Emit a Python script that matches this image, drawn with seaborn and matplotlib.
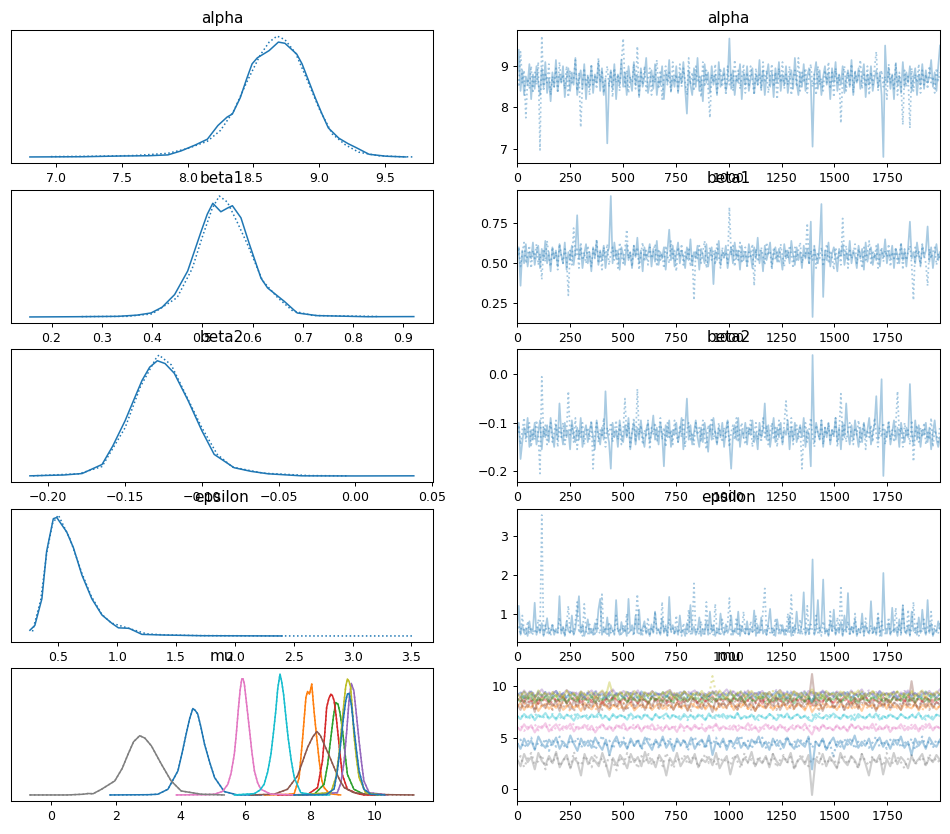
import numpy as np
import matplotlib
matplotlib.use("Agg")
import matplotlib.pyplot as plt
import seaborn as sns

# ---------------- data ----------------
var_names = ["alpha", "beta1", "beta2", "epsilon", "mu"]
trace_xticks = [0, 250, 500, 750, 1000, 1250, 1500, 1750]
beta1_trace_yticks = [0.25, 0.50, 0.75]
n_draws = 2000

# KDE curves (x, relative density): chain 0 (solid) and chain 1 (dotted)
alpha_kde0_x = [6.80, 7.2, 7.5, 7.7, 7.85, 7.95, 8.06, 8.15, 8.23, 8.30, 8.34, 8.40, 8.45, 8.49, 8.53, 8.56,
                8.62, 8.69, 8.74, 8.77, 8.83, 8.87, 8.92, 8.97, 9.02, 9.07, 9.15, 9.22, 9.28, 9.38, 9.51, 9.66]
alpha_kde0_y = [0.0, 0.002, 0.008, 0.01, 0.017, 0.05, 0.10, 0.147, 0.26, 0.33, 0.355, 0.49, 0.65, 0.77, 0.82, 0.84,
                0.88, 0.95, 0.94, 0.91, 0.85, 0.77, 0.63, 0.49, 0.36, 0.24, 0.155, 0.11, 0.078, 0.022, 0.006, 0.0]
alpha_kde1_x = [6.96, 7.3, 7.6, 7.85, 8.0, 8.15, 8.25, 8.35, 8.45, 8.55, 8.62, 8.68, 8.74, 8.82, 8.9, 9.0,
                9.1, 9.2, 9.3, 9.45, 9.6, 9.72]
alpha_kde1_y = [0.003, 0.006, 0.012, 0.03, 0.07, 0.13, 0.22, 0.38, 0.62, 0.84, 0.95, 1.0, 0.97, 0.86, 0.66, 0.40,
                0.19, 0.10, 0.04, 0.01, 0.003, 0.0]

beta1_kde0_x = [0.157, 0.25, 0.332, 0.37, 0.398, 0.42, 0.445, 0.471, 0.498, 0.51, 0.521, 0.537, 0.550, 0.560,
                0.577, 0.594, 0.617, 0.630, 0.663, 0.689, 0.729, 0.828, 0.921]
beta1_kde0_y = [0.0, 0.002, 0.005, 0.015, 0.033, 0.08, 0.185, 0.38, 0.71, 0.85, 0.94, 0.87, 0.9, 0.92,
                0.82, 0.60, 0.32, 0.24, 0.13, 0.033, 0.011, 0.002, 0.003]
beta1_kde1_x = [0.26, 0.35, 0.40, 0.45, 0.48, 0.50, 0.52, 0.534, 0.55, 0.57, 0.59, 0.62, 0.65, 0.68, 0.72, 0.85]
beta1_kde1_y = [0.003, 0.005, 0.025, 0.16, 0.40, 0.66, 0.90, 1.0, 0.95, 0.78, 0.60, 0.30, 0.16, 0.05, 0.012, 0.004]

beta2_kde0_x = [-0.212, -0.19, -0.178, -0.165, -0.158, -0.150, -0.144, -0.139, -0.134, -0.129, -0.124, -0.118,
                -0.109, -0.100, -0.092, -0.079, -0.068, -0.057, -0.035, 0.0, 0.038]
beta2_kde0_y = [0.003, 0.01, 0.022, 0.097, 0.25, 0.458, 0.64, 0.79, 0.9, 0.953, 0.93, 0.85,
                0.625, 0.375, 0.18, 0.07, 0.04, 0.02, 0.003, 0.002, 0.003]
beta2_kde1_x = [-0.21, -0.18, -0.165, -0.15, -0.14, -0.13, -0.128, -0.12, -0.11, -0.10, -0.09, -0.08, -0.06,
                -0.03, -0.005]
beta2_kde1_y = [0.003, 0.02, 0.08, 0.40, 0.74, 0.97, 1.0, 0.92, 0.66, 0.40, 0.18, 0.075, 0.025, 0.005, 0.003]

epsilon_kde0_x = [0.258, 0.30, 0.36, 0.40, 0.457, 0.486, 0.571, 0.628, 0.70, 0.784, 0.87, 0.955, 1.01, 1.10,
                  1.21, 1.38, 1.72, 2.40]
epsilon_kde0_y = [0.05, 0.09, 0.31, 0.70, 0.97, 0.98, 0.86, 0.73, 0.505, 0.31, 0.176, 0.107, 0.07, 0.066,
                  0.016, 0.011, 0.005, 0.003]
epsilon_kde1_x = [0.28, 0.35, 0.40, 0.45, 0.50, 0.55, 0.60, 0.65, 0.70, 0.78, 0.87, 0.95, 1.05, 1.15, 1.25,
                  1.4, 1.7, 2.5, 3.52]
epsilon_kde1_y = [0.04, 0.3, 0.68, 0.93, 1.0, 0.9, 0.80, 0.66, 0.52, 0.33, 0.18, 0.11, 0.08, 0.05, 0.02,
                  0.012, 0.006, 0.003, 0.003]

# mu components (colour C0..C9, then C0 again)
mu_kde_x = [
    [1.82, 3.0, 3.30, 3.61, 3.92, 4.05, 4.17, 4.28, 4.38, 4.45, 4.53, 4.63, 4.74, 4.9, 5.05, 5.35, 5.76, 6.5],
    [6.6, 7.3, 7.51, 7.66, 7.77, 7.87, 7.92, 7.98, 8.05, 8.12, 8.2, 8.28, 8.36, 8.43, 8.6, 8.94],
    [7.3, 8.12, 8.43, 8.54, 8.64, 8.72, 8.79, 8.86, 8.92, 8.99, 9.07, 9.15, 9.35, 9.66, 10.1],
    [7.0, 7.92, 8.23, 8.38, 8.45, 8.51, 8.58, 8.64, 8.69, 8.74, 8.8, 8.86, 8.99, 9.15, 9.46, 9.66, 10.0],
    [7.8, 8.84, 8.95, 9.05, 9.13, 9.20, 9.27, 9.35, 9.43, 9.51, 9.59, 9.66, 9.82, 10.38],
    [6.17, 6.89, 7.30, 7.61, 7.92, 8.08, 8.21, 8.32, 8.43, 8.58, 8.74, 8.9, 9.05, 9.35, 9.76, 10.5, 11.2],
    [3.87, 4.8, 5.05, 5.30, 5.46, 5.56, 5.66, 5.72, 5.78, 5.84, 5.89, 5.93, 5.97, 6.04, 6.12, 6.20, 6.28,
     6.38, 6.48, 6.79, 7.6],
    [-0.65, 0.5, 1.0, 1.15, 1.3, 1.56, 1.97, 2.2, 2.38, 2.55, 2.74, 2.9, 3.10, 3.41, 3.71, 4.02, 4.64, 5.35],
    [7.6, 8.64, 8.8, 8.89, 8.97, 9.05, 9.1, 9.15, 9.2, 9.25, 9.3, 9.35, 9.43, 9.51, 9.71, 10.17],
    [5.66, 6.28, 6.45, 6.58, 6.69, 6.79, 6.87, 6.94, 7.0, 7.07, 7.12, 7.18, 7.25, 7.32, 7.42, 7.51, 7.71,
     8.12, 8.6],
    [7.5, 8.5, 8.74, 8.84, 8.94, 9.02, 9.10, 9.15, 9.2, 9.27, 9.35, 9.43, 9.51, 9.66, 9.87, 10.3],
]
mu_kde_y = [
    [0, 0.002, 0.006, 0.047, 0.2, 0.35, 0.50, 0.63, 0.715, 0.70, 0.67, 0.56, 0.42, 0.27, 0.144, 0.028, 0.0, 0.0],
    [0, 0.004, 0.011, 0.144, 0.475, 0.807, 0.856, 0.834, 0.917, 0.696, 0.48, 0.282, 0.12, 0.061, 0.01, 0.0],
    [0, 0.003, 0.088, 0.25, 0.475, 0.65, 0.765, 0.751, 0.68, 0.558, 0.36, 0.171, 0.047, 0.006, 0],
    [0, 0.003, 0.061, 0.282, 0.5, 0.724, 0.8, 0.834, 0.82, 0.779, 0.66, 0.503, 0.171, 0.047, 0.011, 0.0, 0.0],
    [0, 0.019, 0.1, 0.282, 0.53, 0.779, 0.923, 0.862, 0.66, 0.448, 0.26, 0.116, 0.019, 0.0],
    [0, 0.006, 0.047, 0.157, 0.392, 0.48, 0.525, 0.49, 0.42, 0.33, 0.227, 0.13, 0.061, 0.019, 0.006, 0.002, 0.0],
    [0, 0.002, 0.006, 0.03, 0.088, 0.18, 0.337, 0.50, 0.696, 0.87, 0.959, 0.96, 0.917, 0.75, 0.558, 0.36,
     0.199, 0.10, 0.047, 0.006, 0],
    [0.0, 0.0, 0.006, 0.012, 0.01, 0.047, 0.116, 0.22, 0.337, 0.44, 0.49, 0.47, 0.406, 0.254, 0.116, 0.033,
     0.006, 0.0],
    [0, 0.019, 0.15, 0.337, 0.56, 0.779, 0.9, 0.959, 0.94, 0.89, 0.72, 0.503, 0.3, 0.144, 0.019, 0.0],
    [0, 0.011, 0.04, 0.088, 0.19, 0.337, 0.52, 0.696, 0.88, 1.0, 0.94, 0.834, 0.65, 0.475, 0.28, 0.144,
     0.019, 0.0, 0.0],
    [0, 0.004, 0.05, 0.2, 0.42, 0.62, 0.78, 0.834, 0.84, 0.75, 0.558, 0.37, 0.199, 0.047, 0.006, 0],
]
mu_colors = ["C0", "C1", "C2", "C3", "C4", "C5", "C6", "C7", "C8", "C9", "C0"]

# Trace values (thinned draws)
alpha_chain0 = [
    8.6, 9.4, 8.4, 8.9, 8.3, 8.75, 8.55, 9.05, 8.2, 8.8,
    8.45, 9.0, 8.6, 8.3, 8.95, 8.5, 9.1, 8.35, 8.7, 8.15,
    8.85, 8.5, 9.15, 8.4, 8.8, 8.6, 9.0, 8.25, 8.7, 8.95,
    8.4, 8.85, 8.55, 9.2, 8.3, 8.65, 8.9, 8.45, 9.05, 8.2,
    8.75, 8.5, 9.0, 8.35, 8.8, 8.6, 9.1, 8.4, 8.95, 8.3,
    8.7, 7.13, 8.6, 8.9, 8.45, 9.05, 8.2, 8.8, 8.55, 9.15,
    8.5, 8.85, 8.3, 9.0, 8.65, 8.4, 9.1, 8.55, 8.8, 8.25,
    8.95, 8.5, 8.75, 9.2, 8.35, 8.6, 8.9, 8.45, 9.05, 8.3,
    8.7, 8.55, 9.0, 8.2, 8.85, 8.6, 9.15, 8.4, 8.75, 8.5,
    9.0, 8.35, 8.8, 8.6, 9.1, 8.45, 7.85, 8.9, 8.55, 8.3,
    8.95, 8.5, 9.2, 8.4, 8.75, 8.15, 9.05, 8.6, 8.85, 8.35,
    9.0, 8.55, 8.8, 8.3, 9.1, 8.5, 8.7, 8.95, 8.4, 8.65,
    9.67, 8.45, 8.9, 8.3, 8.75, 8.6, 9.05, 8.2, 8.85, 8.55,
    9.0, 8.4, 8.7, 8.95, 8.35, 8.8, 8.55, 9.15, 8.45, 8.9,
    8.3, 8.75, 9.05, 8.5, 8.85, 8.25, 8.95, 8.6, 9.1, 8.4,
    8.8, 8.55, 9.0, 8.35, 8.7, 8.9, 8.45, 9.2, 8.6, 8.3,
    8.85, 8.5, 9.05, 8.4, 8.75, 8.95, 8.6, 7.05, 8.8, 9.1,
    8.45, 8.9, 8.3, 8.75, 9.0, 8.55, 8.85, 8.2, 8.95, 8.6,
    9.1, 8.4, 8.8, 8.55, 9.0, 8.35, 8.7, 8.9, 8.5, 9.15,
    8.3, 8.85, 8.6, 8.95, 8.45, 8.75, 9.05, 8.25, 8.8, 8.55,
    9.0, 8.4, 8.7, 8.9, 8.5, 8.85, 8.3, 6.8, 9.5, 8.6,
    8.95, 8.45, 8.8, 8.2, 9.05, 8.55, 8.75, 8.35, 9.1, 8.5,
    8.85, 8.6, 9.0, 8.4, 8.7, 8.95, 8.3, 8.8, 8.55, 9.05,
    8.45, 8.9, 8.6, 8.75, 9.15, 8.5, 8.85, 8.4, 9.0, 9.5]
alpha_chain1 = [
    8.8, 8.5, 9.35, 8.6, 8.9, 7.75, 8.7, 8.45, 9.0, 8.35,
    8.85, 8.55, 9.1, 6.97, 9.73, 8.4, 8.8, 8.6, 9.05, 8.3,
    8.75, 8.5, 8.95, 8.35, 9.1, 8.6, 8.8, 8.45, 9.0, 8.25,
    8.9, 8.55, 8.7, 9.15, 8.4, 8.85, 7.52, 8.6, 8.95, 8.5,
    8.8, 8.3, 9.05, 8.55, 8.75, 8.45, 9.2, 8.6, 8.9, 8.35,
    8.7, 9.0, 8.5, 8.85, 8.25, 8.95, 8.6, 8.8, 8.4, 9.1,
    9.67, 8.5, 8.9, 8.35, 8.75, 8.6, 9.05, 8.45, 9.48, 8.3,
    8.85, 8.55, 9.0, 8.4, 8.7, 8.95, 8.3, 8.8, 8.6, 9.15,
    8.45, 8.9, 8.2, 8.75, 9.0, 8.55, 8.85, 8.35, 9.1, 8.6,
    8.8, 8.4, 9.05, 8.5, 8.95, 8.65, 8.3, 9.2, 8.55, 8.85,
    8.4, 9.0, 8.6, 8.75, 8.25, 9.1, 8.5, 8.9, 8.45, 7.75,
    8.8, 8.6, 9.05, 8.35, 8.7, 8.95, 8.5, 8.85, 8.3, 9.0,
    8.55, 8.8, 8.4, 9.15, 8.6, 8.9, 8.45, 8.75, 9.05, 8.35,
    8.85, 8.5, 9.0, 8.65, 8.3, 8.95, 8.55, 8.8, 8.4, 9.1,
    8.6, 8.9, 8.35, 8.75, 9.05, 8.5, 8.85, 8.2, 8.95, 8.6,
    9.1, 8.45, 8.8, 8.55, 9.0, 8.3, 8.7, 8.9, 8.5, 9.2,
    8.4, 8.85, 8.6, 8.95, 8.35, 8.75, 9.05, 8.5, 8.8, 8.3,
    9.0, 8.55, 8.7, 8.4, 8.9, 8.6, 9.1, 8.45, 8.85, 8.25,
    8.95, 8.6, 8.8, 7.62, 8.7, 9.0, 8.4, 8.85, 8.55, 9.05,
    8.35, 8.9, 8.6, 8.75, 9.15, 8.45, 8.8, 8.5, 9.0, 8.3,
    8.85, 8.55, 8.95, 9.35, 8.4, 8.7, 8.9, 8.5, 8.75, 8.2,
    9.05, 8.6, 8.8, 8.45, 9.1, 8.3, 8.85, 8.55, 7.58, 8.9,
    8.5, 8.75, 7.5, 8.95, 8.4, 8.8, 8.6, 9.05, 8.35, 8.9,
    8.55, 8.8, 8.45, 9.0, 8.6, 8.75, 8.35, 8.95, 8.65, 8.85]

beta1_chain0 = [
    0.55, 0.6, 0.36, 0.58, 0.5, 0.62, 0.48, 0.57, 0.53, 0.63,
    0.49, 0.56, 0.61, 0.47, 0.59, 0.52, 0.64, 0.5, 0.57, 0.45,
    0.6, 0.53, 0.58, 0.48, 0.62, 0.55, 0.5, 0.63, 0.46, 0.57,
    0.52, 0.61, 0.49, 0.58, 0.8, 0.53, 0.6, 0.47, 0.56, 0.62,
    0.5, 0.57, 0.45, 0.6, 0.54, 0.64, 0.49, 0.58, 0.52, 0.61,
    0.47, 0.56, 0.6, 0.92, 0.5, 0.63, 0.53, 0.58, 0.46, 0.6,
    0.55, 0.49, 0.62, 0.52, 0.57, 0.47, 0.61, 0.54, 0.66, 0.5,
    0.58, 0.45, 0.6, 0.53, 0.56, 0.62, 0.48, 0.59, 0.51, 0.64,
    0.49, 0.57, 0.53, 0.6, 0.46, 0.58, 0.71, 0.52, 0.61, 0.48,
    0.56, 0.63, 0.5, 0.58, 0.54, 0.47, 0.6, 0.52, 0.65, 0.49,
    0.57, 0.53, 0.61, 0.46, 0.59, 0.55, 0.5, 0.62, 0.48, 0.56,
    0.6, 0.37, 0.58, 0.52, 0.64, 0.49, 0.57, 0.54, 0.61, 0.47,
    0.55, 0.6, 0.5, 0.63, 0.53, 0.58, 0.46, 0.61, 0.52, 0.57,
    0.49, 0.62, 0.55, 0.47, 0.6, 0.53, 0.66, 0.5, 0.58, 0.45,
    0.61, 0.52, 0.57, 0.63, 0.48, 0.56, 0.6, 0.51, 0.59, 0.54,
    0.46, 0.62, 0.53, 0.58, 0.5, 0.64, 0.55, 0.49, 0.6, 0.52,
    0.57, 0.47, 0.61, 0.53, 0.59, 0.5, 0.76, 0.165, 0.6, 0.54,
    0.5, 0.62, 0.87, 0.29, 0.58, 0.52, 0.63, 0.48, 0.56, 0.6,
    0.53, 0.45, 0.59, 0.55, 0.62, 0.49, 0.57, 0.52, 0.64, 0.5,
    0.58, 0.54, 0.47, 0.61, 0.53, 0.59, 0.46, 0.63, 0.51, 0.57,
    0.6, 0.49, 0.56, 0.52, 0.62, 0.48, 0.58, 0.54, 0.65, 0.5,
    0.57, 0.53, 0.61, 0.47, 0.59, 0.55, 0.5, 0.62, 0.52, 0.58,
    0.48, 0.6, 0.76, 0.53, 0.57, 0.5, 0.63, 0.55, 0.49, 0.61,
    0.54, 0.58, 0.73, 0.51, 0.6, 0.47, 0.56, 0.62, 0.52, 0.57]
beta1_chain1 = [
    0.52, 0.6, 0.48, 0.57, 0.63, 0.5, 0.55, 0.61, 0.47, 0.58,
    0.53, 0.62, 0.49, 0.56, 0.4, 0.59, 0.51, 0.64, 0.54, 0.48,
    0.6, 0.52, 0.57, 0.46, 0.62, 0.55, 0.5, 0.59, 0.53, 0.3,
    0.58, 0.49, 0.72, 0.54, 0.6, 0.47, 0.63, 0.52, 0.57, 0.5,
    0.61, 0.55, 0.48, 0.59, 0.53, 0.65, 0.5, 0.57, 0.46, 0.6,
    0.54, 0.62, 0.49, 0.56, 0.6, 0.52, 0.58, 0.47, 0.63, 0.55,
    0.5, 0.59, 0.71, 0.53, 0.57, 0.48, 0.61, 0.54, 0.6, 0.46,
    0.56, 0.63, 0.51, 0.58, 0.49, 0.6, 0.53, 0.57, 0.62, 0.48,
    0.59, 0.52, 0.56, 0.47, 0.61, 0.55, 0.5, 0.64, 0.53, 0.58,
    0.45, 0.6, 0.54, 0.62, 0.49, 0.57, 0.52, 0.6, 0.48, 0.56,
    0.27, 0.58, 0.53, 0.61, 0.5, 0.57, 0.64, 0.47, 0.55, 0.6,
    0.52, 0.58, 0.49, 0.62, 0.54, 0.47, 0.6, 0.53, 0.57, 0.5,
    0.85, 0.55, 0.61, 0.48, 0.58, 0.52, 0.63, 0.5, 0.56, 0.6,
    0.47, 0.57, 0.53, 0.62, 0.36, 0.59, 0.51, 0.56, 0.6, 0.54,
    0.49, 0.63, 0.55, 0.58, 0.46, 0.6, 0.52, 0.57, 0.5, 0.62,
    0.54, 0.48, 0.59, 0.53, 0.61, 0.56, 0.47, 0.6, 0.52, 0.58,
    0.63, 0.5, 0.56, 0.54, 0.75, 0.49, 0.58, 0.52, 0.61, 0.47,
    0.57, 0.53, 0.6, 0.48, 0.55, 0.62, 0.5, 0.58, 0.54, 0.46,
    0.6, 0.52, 0.57, 0.49, 0.78, 0.55, 0.61, 0.47, 0.58, 0.53,
    0.56, 0.62, 0.5, 0.59, 0.54, 0.47, 0.6, 0.52, 0.57, 0.64,
    0.49, 0.58, 0.53, 0.61, 0.47, 0.56, 0.6, 0.51, 0.58, 0.54,
    0.62, 0.48, 0.57, 0.53, 0.6, 0.5, 0.55, 0.63, 0.46, 0.59,
    0.52, 0.57, 0.61, 0.49, 0.27, 0.6, 0.54, 0.58, 0.48, 0.62,
    0.55, 0.5, 0.36, 0.59, 0.53, 0.57, 0.6, 0.49, 0.56, 0.52]

beta2_chain0 = [
    -0.12, -0.1, -0.175, -0.14, -0.11, -0.13, -0.09, -0.15, -0.115, -0.135,
    -0.1, -0.145, -0.12, -0.095, -0.155, -0.11, -0.13, -0.105, -0.14, -0.09,
    -0.125, -0.15, -0.105, -0.135, -0.06, -0.12, -0.145, -0.1, -0.13, -0.115,
    -0.155, -0.095, -0.125, -0.14, -0.11, -0.135, -0.09, -0.15, -0.12, -0.105,
    -0.14, -0.115, -0.1, -0.13, -0.155, -0.095, -0.125, -0.145, -0.11, -0.135,
    -0.035, -0.12, -0.14, -0.195, -0.1, -0.13, -0.115, -0.15, -0.095, -0.125,
    -0.14, -0.105, -0.13, -0.09, -0.155, -0.12, -0.1, -0.145, -0.11, -0.135,
    -0.095, -0.13, -0.15, -0.115, -0.1, -0.14, -0.12, -0.085, -0.135, -0.11,
    -0.145, -0.1, -0.125, -0.19, -0.105, -0.13, -0.095, -0.15, -0.115, -0.125,
    -0.1, -0.14, -0.12, -0.09, -0.155, -0.11, -0.05, -0.135, -0.105, -0.145,
    -0.12, -0.095, -0.13, -0.15, -0.11, -0.14, -0.1, -0.125, -0.16, -0.105,
    -0.135, -0.09, -0.12, -0.145, -0.11, -0.13, -0.1, -0.15, -0.115, -0.095,
    -0.14, -0.195, -0.125, -0.105, -0.135, -0.09, -0.15, -0.115, -0.13, -0.1,
    -0.145, -0.11, -0.125, -0.095, -0.14, -0.12, -0.155, -0.1, -0.13, -0.115,
    -0.06, -0.135, -0.105, -0.15, -0.12, -0.09, -0.14, -0.11, -0.13, -0.1,
    -0.145, -0.115, -0.125, -0.095, -0.155, -0.11, -0.135, -0.1, -0.14, -0.12,
    -0.105, -0.13, -0.09, -0.15, -0.115, -0.125, -0.19, 0.04, -0.14, -0.1,
    -0.12, -0.135, -0.095, -0.15, -0.11, -0.13, -0.1, -0.145, -0.115, -0.125,
    -0.09, -0.14, -0.11, -0.155, -0.1, -0.13, -0.06, -0.12, -0.145, -0.105,
    -0.135, -0.095, -0.125, -0.15, -0.11, -0.14, -0.1, -0.13, -0.115, -0.09,
    -0.145, -0.12, -0.105, -0.045, -0.135, -0.1, -0.01, -0.21, -0.115, -0.13,
    -0.1, -0.145, -0.12, -0.095, -0.135, -0.11, -0.15, -0.1, -0.125, -0.14,
    -0.11, -0.13, -0.02, -0.12, -0.145, -0.095, -0.135, -0.105, -0.15, -0.115,
    -0.125, -0.1, -0.14, -0.11, -0.155, -0.12, -0.095, -0.135, -0.15, -0.13]
beta2_chain1 = [
    -0.13, -0.105, -0.145, -0.115, -0.09, -0.14, -0.12, -0.1, -0.15, -0.11,
    -0.135, -0.095, -0.125, -0.205, -0.005, -0.13, -0.105, -0.145, -0.115, -0.1,
    -0.14, -0.12, -0.095, -0.15, -0.11, -0.13, -0.1, -0.145, -0.12, -0.035,
    -0.125, -0.105, -0.14, -0.09, -0.155, -0.115, -0.13, -0.1, -0.145, -0.12,
    -0.11, -0.135, -0.095, -0.195, -0.12, -0.1, -0.14, -0.115, -0.13, -0.09,
    -0.15, -0.11, -0.125, -0.1, -0.14, -0.12, -0.095, -0.135, -0.105, -0.145,
    -0.115, -0.05, -0.13, -0.1, -0.15, -0.12, -0.09, -0.14, -0.03, -0.125,
    -0.105, -0.145, -0.115, -0.13, -0.095, -0.155, -0.11, -0.125, -0.1, -0.14,
    -0.12, -0.09, -0.135, -0.11, -0.15, -0.1, -0.13, -0.115, -0.145, -0.095,
    -0.125, -0.14, -0.105, -0.13, -0.09, -0.15, -0.115, -0.1, -0.135, -0.12,
    -0.145, -0.1, -0.125, -0.11, -0.14, -0.095, -0.13, -0.155, -0.105, -0.12,
    -0.09, -0.135, -0.115, -0.145, -0.1, -0.125, -0.14, -0.11, -0.13, -0.095,
    -0.15, -0.12, -0.105, -0.135, -0.09, -0.14, -0.115, -0.1, -0.13, -0.145,
    -0.11, -0.125, -0.095, -0.15, -0.12, -0.1, -0.135, -0.115, -0.14, -0.09,
    -0.13, -0.105, -0.145, -0.12, -0.1, -0.135, -0.11, -0.15, -0.095, -0.125,
    -0.14, -0.1, -0.055, -0.115, -0.13, -0.09, -0.145, -0.12, -0.105, -0.135,
    -0.11, -0.195, -0.125, -0.1, -0.14, -0.115, -0.09, -0.13, -0.15, -0.105,
    -0.12, -0.135, -0.095, -0.145, -0.11, -0.125, -0.1, -0.14, -0.115, -0.13,
    -0.09, -0.15, -0.12, -0.04, -0.135, -0.105, -0.14, -0.115, -0.1, -0.13,
    -0.145, -0.11, -0.125, -0.095, -0.14, -0.12, -0.1, -0.155, -0.115, -0.13,
    -0.105, -0.14, -0.09, -0.125, -0.15, -0.11, -0.13, -0.1, -0.145, -0.12,
    -0.095, -0.135, -0.115, -0.14, -0.105, -0.035, -0.125, -0.11, -0.15, -0.1,
    -0.13, -0.115, -0.145, -0.095, -0.18, -0.12, -0.105, -0.14, -0.11, -0.13,
    -0.1, -0.145, -0.12, -0.135, -0.09, -0.15, -0.115, -0.125, -0.14, -0.105]

epsilon_chain0 = [
    0.55, 1.2, 0.45, 0.7, 0.5, 0.62, 0.42, 0.8, 0.5, 0.58,
    1.28, 0.45, 0.65, 0.5, 0.75, 0.42, 0.6, 0.88, 0.48, 0.55,
    0.7, 0.45, 0.6, 0.52, 1.45, 0.48, 0.66, 0.42, 0.8, 0.55,
    0.5, 0.95, 0.45, 0.6, 1.0, 1.45, 0.5, 0.72, 0.42, 0.58,
    0.85, 0.48, 0.6, 0.45, 0.75, 0.52, 1.1, 1.38, 0.45, 0.62,
    0.5, 0.9, 0.42, 0.7, 0.55, 0.48, 1.35, 0.6, 0.45, 0.78,
    0.52, 0.65, 0.42, 1.38, 0.55, 0.7, 0.48, 0.95, 0.5, 1.1,
    0.45, 0.62, 0.8, 0.48, 0.58, 0.42, 0.72, 0.5, 1.05, 0.55,
    0.6, 0.45, 0.88, 0.5, 0.65, 0.42, 1.43, 0.55, 0.7, 0.48,
    0.62, 0.45, 0.95, 0.5, 0.58, 0.42, 0.75, 0.52, 1.22, 0.48,
    0.66, 0.45, 0.55, 0.9, 0.42, 0.6, 0.5, 0.8, 0.45, 1.05,
    0.52, 0.7, 0.42, 0.6, 0.48, 1.0, 0.55, 0.45, 0.72, 0.5,
    0.62, 0.95, 0.45, 0.58, 0.5, 1.05, 0.42, 0.68, 0.55, 0.48,
    0.8, 0.45, 0.6, 0.52, 1.08, 0.42, 0.7, 0.5, 0.9, 0.48,
    0.58, 0.45, 0.75, 1.12, 0.5, 0.62, 0.42, 0.85, 0.55, 0.48,
    0.7, 0.45, 0.6, 0.52, 0.95, 0.42, 0.65, 0.5, 1.05, 0.55,
    0.48, 0.75, 1.55, 0.45, 0.62, 0.5, 0.88, 2.4, 0.45, 0.6,
    1.35, 0.5, 0.72, 1.88, 0.48, 0.6, 0.42, 0.8, 0.55, 1.1,
    0.45, 0.62, 0.5, 0.78, 0.42, 0.95, 0.55, 1.53, 0.48, 0.65,
    0.5, 0.85, 0.42, 0.6, 0.52, 1.0, 0.45, 0.7, 0.55, 0.48,
    1.32, 0.5, 0.65, 0.45, 0.9, 0.55, 0.42, 2.05, 0.6, 0.48,
    0.75, 0.45, 1.15, 0.52, 0.62, 0.42, 0.85, 0.5, 1.2, 0.55,
    0.48, 0.7, 0.42, 1.05, 0.55, 0.6, 0.45, 0.9, 0.5, 1.1,
    0.62, 0.45, 1.35, 0.5, 0.75, 0.42, 0.58, 0.52, 0.8, 0.6]
epsilon_chain1 = [
    0.5, 0.7, 0.45, 0.95, 0.55, 0.42, 0.8, 0.5, 0.65, 0.45,
    0.6, 0.48, 0.85, 0.52, 3.55, 0.45, 0.7, 0.5, 0.62, 0.42,
    0.75, 0.5, 0.58, 0.45, 0.9, 0.52, 0.65, 0.42, 0.7, 1.2,
    0.48, 0.6, 0.45, 0.8, 1.3, 0.5, 0.65, 0.42, 1.25, 0.55,
    0.45, 0.72, 0.5, 0.6, 0.42, 0.85, 0.55, 0.48, 1.5, 0.5,
    0.65, 0.42, 0.78, 0.5, 0.58, 0.45, 0.95, 0.52, 0.62, 0.42,
    0.7, 0.5, 1.0, 0.45, 0.6, 0.55, 0.42, 0.8, 1.5, 0.48,
    0.58, 0.45, 0.72, 0.52, 0.9, 0.42, 0.65, 0.5, 1.05, 0.48,
    0.6, 0.45, 1.3, 0.52, 0.7, 0.42, 0.85, 0.5, 0.62, 0.45,
    0.95, 0.5, 0.6, 0.42, 0.75, 0.55, 0.48, 1.1, 0.45, 0.65,
    1.78, 0.5, 0.62, 0.45, 0.8, 0.52, 0.42, 1.3, 0.55, 0.48,
    0.7, 0.45, 1.25, 0.5, 0.6, 0.42, 0.85, 0.55, 0.48, 0.72,
    1.4, 0.45, 0.6, 0.52, 0.9, 0.42, 0.7, 0.5, 1.05, 0.48,
    0.65, 0.42, 0.8, 0.55, 0.5, 0.95, 0.45, 0.6, 0.52, 1.1,
    1.65, 0.45, 0.7, 0.5, 0.62, 0.42, 0.88, 0.55, 0.48, 0.75,
    0.5, 0.62, 0.45, 1.0, 0.52, 1.48, 0.42, 0.7, 0.55, 0.48,
    0.85, 0.45, 0.6, 0.5, 1.2, 0.42, 0.72, 0.55, 0.48, 0.95,
    0.5, 0.65, 0.42, 0.8, 0.52, 0.6, 0.45, 1.05, 0.5, 0.7,
    0.48, 0.9, 0.55, 1.72, 0.45, 0.62, 0.5, 0.8, 0.42, 0.68,
    0.52, 1.0, 0.45, 0.6, 0.5, 0.75, 0.42, 0.88, 0.55, 0.48,
    0.7, 0.45, 0.62, 0.5, 1.05, 0.42, 0.8, 0.55, 0.48, 0.65,
    0.9, 0.45, 0.6, 0.52, 1.15, 0.5, 0.7, 0.42, 1.22, 0.55,
    0.48, 1.1, 0.45, 0.62, 1.3, 0.5, 0.75, 0.42, 0.6, 0.52,
    0.85, 0.45, 0.65, 0.5, 1.05, 0.42, 0.7, 0.55, 0.48, 0.75]

mu_chain0 = [
    [4.5, 3.9, 4.9, 4.2, 4.7, 3.8, 5.1, 4.4, 4.0, 4.8, 4.3, 5.0, 3.9, 4.6, 4.1, 5.2, 4.4, 3.7, 4.9, 4.2,
     4.7, 4.0, 5.0, 4.3, 3.8, 4.8, 3.3, 4.5, 5.1, 4.1, 4.6, 3.9, 4.9, 4.2, 4.7, 4.0, 5.0, 4.4, 3.8, 4.8,
     4.2, 5.1, 4.0, 4.6, 3.7, 4.9, 4.3, 4.7, 4.1, 5.0, 3.9, 4.5, 4.8, 4.1, 5.2, 3.3, 4.6, 4.2, 4.9, 3.8,
     4.7, 4.3, 5.0, 4.0, 4.5, 3.9, 4.8, 4.4, 5.1, 4.1, 4.6, 3.8, 4.9, 4.2, 4.7, 4.0, 5.0, 4.3, 3.9, 4.8,
     4.4, 4.1, 5.1, 1.9, 4.6, 4.2, 4.9, 3.8, 4.5, 5.0, 4.1, 4.7, 3.9, 4.8, 4.3, 5.2, 4.0, 4.6, 4.2, 4.9,
     3.8, 4.5, 5.0, 4.1, 4.7, 3.9, 4.8, 4.3, 5.1, 4.0, 4.6, 3.3, 4.9, 4.2, 4.7, 3.9, 5.0, 4.4, 4.1, 4.8],
    [8.0, 8.4, 7.7, 8.2, 7.9, 8.5, 7.6, 8.1, 8.3, 7.8, 8.2, 7.9, 8.45, 7.7, 8.0, 8.3, 7.85, 8.15, 7.6, 8.4,
     8.0, 7.75, 8.3, 7.9, 8.5, 8.05, 7.7, 8.2, 7.95, 8.35, 7.8, 8.1, 8.4, 7.65, 8.0, 8.25, 7.9, 8.45, 7.7, 8.1,
     8.3, 7.8, 8.0, 8.2, 7.75, 8.4, 7.95, 8.15, 7.7, 8.3, 8.05, 7.85, 8.4, 7.75, 8.2, 8.0, 7.65, 8.35, 7.9, 8.1,
     8.4, 7.7, 8.25, 7.95, 8.5, 7.8, 8.1, 7.6, 8.3, 8.0, 7.85, 8.35, 7.7, 8.15, 8.0, 8.45, 7.75, 8.2, 7.9, 8.3,
     8.1, 7.65, 8.4, 7.5, 8.0, 8.25, 7.8, 8.35, 7.95, 8.15, 7.7, 8.3, 8.05, 7.85, 8.45, 7.9, 8.2, 7.6, 8.4, 8.0,
     8.25, 7.75, 8.1, 8.35, 7.8, 8.5, 7.95, 8.15, 7.7, 8.3, 8.0, 7.85, 8.4, 7.65, 8.2, 7.9, 8.35, 8.05, 7.75,
     8.1],
    [8.8, 8.5, 9.1, 8.7, 9.2, 8.4, 8.9, 8.6, 9.0, 8.45, 8.85, 9.15, 8.55, 8.95, 8.35, 9.05, 8.7, 8.5, 9.2, 8.75,
     8.6, 9.0, 8.4, 8.9, 8.65, 9.1, 8.5, 8.85, 9.25, 8.6, 8.95, 8.45, 9.05, 8.7, 8.55, 9.15, 8.8, 8.4, 9.0, 8.65,
     8.9, 8.5, 9.1, 8.75, 8.45, 9.2, 8.6, 8.95, 8.5, 9.05, 8.7, 8.85, 8.4, 9.1, 8.6, 8.9, 8.55, 9.0, 8.75, 8.8,
     8.5, 9.05, 8.65, 8.95, 8.4, 9.15, 8.7, 8.55, 9.0, 8.8, 9.1, 8.45, 8.85, 8.6, 9.2, 8.5, 8.9, 8.7, 8.35, 9.05,
     8.75, 8.55, 9.0, 8.4, 8.95, 8.65, 9.15, 8.5, 8.85, 8.7, 9.0, 8.45, 8.8, 9.1, 8.6, 8.9, 8.4, 9.05, 8.7, 8.55,
     8.95, 8.65, 9.2, 8.5, 8.8, 8.45, 9.0, 8.75, 8.6, 9.1, 8.55, 8.9, 8.4, 9.05, 8.7, 8.85, 8.5, 9.15, 8.65,
     8.8],
    [8.6, 8.9, 8.4, 9.0, 8.55, 8.8, 8.3, 9.1, 8.65, 8.45, 8.95, 8.5, 8.75, 9.05, 8.35, 8.85, 8.6, 9.0, 8.4, 8.7,
     8.9, 8.45, 9.1, 8.6, 8.3, 8.8, 8.55, 9.0, 8.65, 8.4, 8.85, 8.5, 9.05, 8.7, 8.35, 8.95, 8.6, 8.4, 9.0, 8.75,
     8.5, 8.9, 8.6, 8.45, 9.1, 8.7, 8.35, 8.85, 8.55, 9.0, 8.65, 8.4, 8.9, 8.55, 8.75, 9.05, 8.5, 8.8, 8.6, 8.95,
     8.45, 8.85, 8.6, 9.1, 8.4, 8.7, 8.95, 8.5, 8.8, 8.3, 9.0, 8.65, 8.45, 8.9, 8.55, 9.05, 8.7, 8.4, 8.85, 8.6,
     8.95, 8.5, 8.75, 8.2, 8.9, 8.6, 8.45, 9.1, 8.7, 8.35, 8.85, 8.55, 9.0, 8.65, 8.4, 8.9, 8.55, 8.75, 9.05,
     8.5, 8.8, 8.6, 8.35, 8.95, 8.7, 8.45, 9.0, 8.6, 8.85, 8.5, 9.1, 8.65, 8.4, 8.8, 8.55, 8.95, 8.7, 8.45,
     8.9, 8.6],
    [9.3, 9.0, 9.6, 9.15, 9.45, 8.9, 9.35, 9.7, 9.1, 9.4, 9.2, 9.55, 8.95, 9.3, 9.65, 9.05, 9.4, 9.2, 9.5, 8.9,
     9.35, 9.6, 9.1, 9.25, 9.5, 9.0, 9.4, 9.7, 9.15, 9.3, 9.55, 9.05, 9.35, 9.2, 9.6, 8.95, 9.4, 9.25, 9.5, 9.1,
     9.3, 9.0, 9.45, 9.65, 9.15, 9.35, 9.05, 9.5, 9.2, 9.4, 9.6, 9.1, 9.3, 8.95, 9.45, 9.25, 9.55, 9.1, 9.35, 9.7,
     9.2, 9.5, 9.05, 9.4, 9.15, 9.6, 9.0, 9.35, 9.25, 9.55, 9.1, 9.45, 8.9, 9.3, 9.65, 9.2, 9.4, 9.05, 9.5, 9.25,
     9.35, 9.0, 9.55, 9.15, 9.4, 9.1, 9.6, 9.2, 9.3, 8.95, 9.5, 9.25, 9.4, 9.05, 9.6, 9.15, 9.35, 9.7, 9.1, 9.3,
     9.45, 9.0, 9.55, 9.2, 9.35, 9.1, 9.5, 8.95, 9.4, 9.25, 9.6, 9.15, 9.3, 9.05, 9.45, 9.2, 9.55, 9.1, 9.35,
     9.7],
    [8.3, 7.7, 8.8, 8.0, 8.6, 7.5, 9.0, 8.2, 7.9, 8.7, 8.1, 8.5, 7.6, 8.9, 8.3, 7.8, 8.6, 8.0, 9.1, 7.7,
     8.4, 8.0, 8.8, 7.5, 8.5, 8.2, 7.9, 8.9, 8.1, 8.6, 7.6, 8.4, 8.9, 7.9, 8.3, 8.7, 7.7, 8.5, 8.1, 8.8,
     7.8, 8.6, 8.2, 9.0, 7.7, 8.4, 8.0, 8.7, 7.6, 8.5, 8.9, 8.1, 7.8, 8.6, 8.3, 7.5, 8.8, 8.0, 8.5, 7.9,
     8.7, 8.2, 7.7, 8.9, 8.4, 8.0, 8.6, 7.6, 8.3, 9.0, 7.9, 8.5, 8.1, 8.8, 7.7, 8.4, 8.2, 8.9, 7.8, 8.6,
     8.0, 8.7, 8.3, 11.2, 8.1, 8.6, 7.6, 8.5, 8.9, 7.9, 8.2, 8.8, 7.7, 8.4, 8.0, 8.7, 7.8, 9.1, 8.3, 8.1,
     8.6, 7.6, 8.5, 8.0, 8.8, 7.9, 8.4, 8.2, 7.7, 8.9, 8.1, 10.5, 8.3, 7.8, 8.6, 8.0, 8.7, 7.9, 8.5, 8.2],
    [6.0, 5.7, 6.3, 5.8, 6.2, 5.5, 6.1, 5.9, 6.4, 5.6, 6.0, 6.3, 5.7, 6.1, 5.85, 6.35, 5.6, 6.05, 5.9, 6.25,
     5.75, 6.15, 5.5, 6.0, 6.3, 5.8, 6.1, 5.65, 6.2, 5.95, 6.35, 5.7, 6.05, 5.85, 6.25, 5.6, 6.1, 5.9, 6.3, 5.75,
     6.0, 5.65, 6.2, 5.8, 6.05, 5.55, 6.3, 5.9, 6.1, 5.7, 6.25, 5.85, 6.0, 5.6, 6.15, 5.95, 6.35, 5.7, 6.1, 5.9,
     5.8, 6.2, 5.65, 6.05, 5.9, 6.4, 5.75, 6.1, 5.55, 6.0, 6.3, 5.85, 6.15, 5.7, 6.25, 5.95, 5.6, 6.05, 5.8, 6.2,
     5.9, 6.35, 5.75, 5.3, 6.1, 5.65, 6.25, 5.85, 6.0, 5.7, 6.2, 5.8, 6.05, 5.6, 6.3, 5.9, 6.15, 5.75, 6.0, 5.85,
     6.35, 5.65, 6.1, 5.8, 6.2, 5.55, 6.0, 5.9, 6.3, 5.7, 6.05, 5.85, 6.25, 5.6, 6.15, 5.95, 6.35, 5.7, 6.1,
     5.9],
    [2.9, 2.2, 3.4, 2.6, 3.1, 1.9, 3.5, 2.7, 2.3, 3.2, 2.5, 3.6, 2.1, 2.8, 3.3, 2.0, 3.0, 2.6, 1.3, 3.4,
     2.4, 3.1, 2.7, 2.2, 3.5, 2.5, 1.2, 3.0, 2.3, 3.3, 2.8, 2.0, 3.4, 2.6, 3.1, 2.2, 3.6, 2.5, 2.9, 2.1,
     3.3, 2.7, 1.3, 3.0, 2.4, 3.5, 2.2, 2.8, 3.2, 2.5, 3.4, 2.1, 2.9, 2.6, 3.1, 2.3, 3.5, 2.0, 2.7, 3.2,
     1.4, 2.8, 3.3, 2.4, 3.0, 2.6, 3.6, 2.2, 2.9, 2.5, 3.2, 2.1, 3.4, 2.7, 2.3, 3.1, 2.6, 3.5, 2.0, 2.8,
     3.0, 2.4, 3.3, -0.6, 2.9, 2.5, 3.4, 2.2, 3.1, 2.6, 2.0, 3.5, 2.7, 2.3, 3.2, 2.8, 2.1, 3.4, 2.5, 1.3,
     3.0, 2.6, 3.3, 1.4, 2.9, 2.2, 3.5, 2.4, 3.1, 2.7, 2.0, 3.2, 2.5, 2.9, 3.4, 2.3, 3.0, 2.6, 3.3, 2.8],
    [9.2, 8.9, 9.5, 9.0, 9.35, 8.75, 9.6, 9.1, 9.3, 8.85, 9.45, 9.05, 9.25, 8.9, 9.55, 9.1, 9.35, 8.8, 9.5, 9.2,
     9.0, 9.4, 8.85, 9.3, 9.6, 9.05, 10.4, 9.15, 8.9, 9.45, 9.1, 9.35, 8.95, 9.55, 9.2, 8.8, 9.4, 9.05, 9.5, 9.25,
     8.9, 9.45, 9.15, 9.6, 8.85, 9.3, 9.0, 9.5, 9.2, 8.95, 9.35, 9.1, 9.55, 8.9, 9.25, 9.45, 9.05, 9.6, 9.15, 8.85,
     9.4, 9.0, 9.3, 9.5, 8.95, 9.2, 9.55, 9.1, 8.9, 9.35, 9.15, 9.45, 8.85, 9.3, 9.6, 9.05, 9.25, 8.95, 9.5, 9.1,
     9.35, 8.9, 9.2, 9.7, 9.05, 9.4, 8.85, 9.55, 9.15, 9.3, 9.0, 9.5, 9.1, 8.95, 9.45, 9.2, 9.6, 8.9, 9.3, 9.05,
     9.55, 9.15, 8.85, 9.4, 9.0, 9.35, 9.2, 9.5, 8.95, 9.25, 9.1, 9.45, 9.0, 9.3, 9.6, 8.9, 9.35, 9.15, 9.5,
     9.2],
    [7.1, 6.8, 7.3, 6.95, 7.25, 6.7, 7.2, 7.0, 7.4, 6.85, 7.15, 6.75, 7.35, 6.9, 7.2, 7.05, 6.65, 7.3, 6.95, 7.15,
     6.8, 7.25, 7.0, 7.4, 6.85, 7.1, 6.7, 7.3, 6.9, 7.2, 7.05, 6.75, 7.35, 6.95, 7.15, 6.8, 7.25, 7.0, 6.7, 7.3,
     6.9, 7.1, 7.35, 6.85, 7.2, 7.0, 6.75, 7.3, 6.95, 7.15, 6.8, 7.25, 7.05, 6.7, 7.35, 6.9, 7.2, 7.0, 7.3, 6.85,
     7.15, 6.9, 7.4, 6.8, 7.1, 6.95, 7.25, 6.75, 7.2, 7.0, 6.85, 7.3, 7.05, 6.7, 7.2, 6.95, 7.35, 6.8, 7.1, 7.25,
     6.9, 7.15, 6.75, 6.6, 7.3, 7.0, 6.85, 7.2, 6.95, 7.35, 7.05, 6.8, 7.25, 6.9, 7.15, 6.7, 7.3, 7.0, 6.85, 7.2,
     6.95, 7.35, 6.75, 7.1, 6.9, 7.25, 7.05, 6.8, 7.3, 7.0, 6.85, 7.2, 6.95, 7.4, 6.8, 7.15, 7.0, 6.75, 7.25,
     7.1],
    [9.1, 9.4, 8.85, 9.25, 9.5, 8.95, 9.3, 9.05, 9.45, 8.8, 9.2, 9.55, 9.0, 9.35, 8.9, 9.45, 9.15, 8.85, 9.4, 9.05,
     9.3, 8.95, 9.5, 9.1, 9.25, 8.8, 9.4, 9.0, 9.35, 9.2, 8.9, 9.45, 9.1, 9.3, 8.85, 9.5, 9.05, 9.25, 9.0, 9.4,
     9.15, 9.35, 8.95, 9.45, 9.1, 9.2, 8.85, 9.5, 9.0, 9.3, 9.15, 9.4, 8.9, 9.25, 9.05, 9.45, 9.2, 8.95, 9.35, 9.1,
     9.5, 9.0, 9.3, 8.85, 9.4, 9.15, 9.25, 8.9, 9.45, 9.05, 9.35, 8.95, 9.2, 9.5, 9.0, 9.3, 8.8, 9.4, 9.1, 9.25,
     8.9, 9.45, 9.05, 8.5, 9.35, 9.15, 9.5, 8.95, 9.2, 9.4, 9.0, 9.3, 9.1, 9.45, 8.85, 9.25, 9.05, 9.4, 8.95, 9.35,
     9.2, 8.9, 9.5, 9.1, 9.3, 9.0, 9.45, 8.85, 9.25, 9.15, 9.4, 9.0, 9.35, 8.95, 9.2, 9.5, 9.05, 9.3, 8.9,
     9.25],
]
mu_chain1 = [
    [4.3, 4.8, 4.0, 4.6, 5.0, 3.9, 4.5, 4.2, 4.9, 3.7, 4.7, 4.1, 5.1, 4.3, 3.9, 4.8, 4.4, 5.0, 4.0, 4.6,
     4.2, 4.9, 3.8, 4.5, 5.2, 4.1, 4.7, 3.9, 4.8, 4.3, 5.0, 4.0, 4.6, 4.2, 4.9, 3.8, 4.5, 5.1, 4.1, 4.7,
     3.9, 4.8, 4.3, 5.0, 4.0, 4.6, 4.2, 4.9, 3.7, 4.5, 5.1, 4.1, 4.7, 3.9, 4.8, 4.3, 5.0, 4.0, 4.6, 4.2,
     4.9, 3.8, 4.5, 5.2, 4.1, 4.7, 3.9, 4.8, 4.3, 5.0, 4.0, 4.6, 4.2, 4.9, 3.8, 4.5, 5.1, 4.1, 4.7, 3.9,
     4.8, 4.3, 5.0, 4.0, 4.6, 4.2, 4.9, 3.8, 4.5, 3.1, 4.7, 4.1, 4.9, 4.3, 5.0, 3.9, 4.6, 4.2, 4.8, 4.0,
     4.5, 5.1, 4.1, 4.7, 3.9, 4.8, 4.3, 5.0, 4.0, 4.6, 4.2, 4.9, 3.8, 4.5, 5.1, 4.1, 4.7, 4.0, 4.8, 4.4],
    [8.1, 7.8, 8.35, 7.95, 8.2, 7.7, 8.4, 8.0, 7.85, 8.3, 7.75, 8.15, 7.9, 8.45, 8.0, 7.6, 8.25, 7.9, 8.4, 7.8,
     8.1, 8.3, 7.7, 8.05, 7.9, 8.35, 7.75, 8.2, 8.0, 7.65, 8.4, 7.9, 8.15, 7.8, 8.3, 7.95, 8.1, 7.7, 8.25, 8.0,
     7.85, 8.4, 7.75, 8.1, 7.95, 8.3, 7.7, 8.2, 7.9, 8.05, 8.35, 7.8, 8.15, 7.9, 8.4, 7.75, 8.1, 8.0, 8.3, 7.85,
     7.95, 8.25, 7.7, 8.45, 8.05, 7.8, 8.3, 7.65, 8.2, 7.9, 8.4, 8.0, 7.75, 8.15, 7.85, 8.35, 7.95, 8.1, 7.7, 8.25,
     8.05, 7.8, 8.4, 7.9, 8.2, 7.6, 8.3, 7.95, 8.15, 7.75, 8.45, 7.85, 8.1, 8.0, 7.7, 8.35, 7.9, 8.2, 8.05, 7.8,
     8.3, 7.75, 8.15, 7.95, 8.4, 7.7, 8.25, 7.85, 8.1, 8.0, 7.9, 8.35, 7.8, 8.2, 7.65, 8.3, 8.0, 8.15, 7.85,
     8.1],
    [8.7, 9.05, 8.5, 8.9, 8.6, 9.15, 8.45, 8.85, 9.0, 8.55, 8.95, 8.4, 9.1, 8.65, 8.8, 8.5, 9.2, 8.7, 8.6, 9.0,
     8.45, 8.9, 9.1, 8.55, 8.85, 8.4, 9.05, 8.7, 8.6, 8.95, 9.15, 8.5, 8.8, 8.65, 9.0, 8.45, 8.9, 9.1, 8.6, 8.75,
     8.5, 9.0, 8.7, 8.4, 8.95, 8.6, 9.15, 8.55, 8.85, 8.7, 9.05, 8.5, 8.9, 8.65, 9.1, 8.45, 8.8, 8.6, 9.0, 8.7,
     8.85, 8.45, 9.2, 8.6, 8.75, 9.0, 8.5, 8.95, 8.65, 9.1, 8.4, 8.8, 8.55, 9.05, 8.7, 8.9, 8.45, 9.15, 8.6, 8.85,
     9.0, 8.5, 8.75, 8.95, 8.4, 9.1, 8.65, 8.8, 8.55, 9.05, 8.7, 9.15, 8.5, 8.9, 8.6, 8.45, 9.0, 8.75, 8.85, 8.55,
     9.1, 8.65, 8.4, 8.95, 8.7, 9.05, 8.5, 8.8, 8.6, 9.2, 8.75, 8.5, 9.0, 8.6, 8.9, 8.45, 9.1, 8.7, 8.55,
     8.85],
    [8.75, 8.45, 8.95, 8.6, 8.35, 9.05, 8.7, 8.5, 8.9, 8.6, 8.4, 8.85, 8.55, 9.1, 8.65, 8.45, 8.9, 8.3, 8.8, 9.0,
     8.55, 8.7, 8.4, 8.95, 8.6, 8.85, 8.35, 9.05, 8.7, 8.5, 8.6, 9.0, 8.45, 8.8, 8.55, 8.9, 8.4, 8.7, 8.95, 8.5,
     8.85, 8.6, 8.35, 9.0, 8.65, 8.5, 8.9, 8.7, 8.45, 8.95, 8.6, 8.4, 8.8, 8.55, 9.05, 8.7, 8.5, 8.85, 8.6, 8.75,
     8.45, 8.9, 8.65, 8.4, 9.0, 8.55, 8.8, 8.35, 8.95, 8.7, 8.5, 8.85, 8.6, 9.05, 8.45, 8.75, 8.55, 8.9, 8.4, 8.8,
     8.65, 8.95, 8.5, 8.7, 8.4, 9.0, 8.6, 8.85, 8.55, 8.45, 8.9, 8.6, 8.75, 8.35, 8.95, 8.5, 8.8, 8.65, 9.05, 8.45,
     8.7, 8.55, 8.9, 8.4, 8.85, 8.6, 9.0, 8.5, 8.75, 8.6, 8.45, 8.95, 8.65, 8.8, 8.5, 9.05, 8.55, 8.7, 8.4,
     8.85],
    [9.2, 9.5, 9.05, 9.35, 9.6, 9.15, 9.3, 8.95, 9.45, 9.25, 9.55, 9.1, 9.4, 9.0, 9.3, 9.65, 9.2, 9.45, 9.05, 9.35,
     9.5, 9.15, 9.6, 9.25, 9.0, 9.4, 9.2, 9.55, 9.1, 9.35, 9.05, 9.45, 9.3, 9.6, 9.15, 9.4, 9.0, 9.3, 9.55, 9.2,
     9.4, 9.1, 9.5, 9.25, 9.35, 8.95, 9.45, 9.2, 9.6, 9.1, 9.3, 9.5, 9.05, 9.4, 9.2, 9.55, 9.15, 9.35, 9.0, 9.45,
     9.25, 9.6, 9.1, 9.35, 9.5, 9.0, 9.4, 9.2, 9.55, 9.15, 9.45, 9.05, 9.3, 9.65, 9.2, 9.4, 9.1, 9.5, 9.25, 8.95,
     9.35, 9.55, 9.15, 9.4, 9.05, 9.3, 9.6, 9.2, 9.45, 9.1, 9.5, 9.0, 9.35, 9.25, 9.55, 9.15, 9.4, 9.05, 9.3, 9.6,
     9.2, 9.45, 9.1, 9.35, 9.0, 9.5, 9.25, 9.4, 9.15, 9.55, 9.3, 9.05, 9.45, 9.2, 9.6, 9.1, 9.35, 9.25, 9.5,
     9.15],
    [8.1, 8.6, 7.8, 8.4, 8.9, 7.6, 8.3, 8.7, 8.0, 8.5, 7.7, 8.9, 8.2, 7.9, 8.6, 8.3, 7.5, 8.8, 8.1, 8.4,
     7.8, 8.7, 8.2, 8.5, 7.7, 9.0, 8.0, 8.4, 7.9, 8.6, 8.3, 7.6, 8.8, 8.1, 8.5, 7.9, 8.7, 8.2, 7.7, 8.9,
     8.4, 8.0, 8.6, 7.8, 8.3, 8.8, 7.9, 8.5, 8.2, 7.6, 8.7, 8.1, 8.4, 7.9, 8.8, 8.2, 7.7, 8.5, 8.0, 8.6,
     8.2, 8.9, 7.8, 8.5, 8.1, 8.7, 7.6, 8.4, 8.0, 8.8, 7.9, 8.6, 8.3, 7.7, 8.9, 8.1, 8.5, 7.8, 8.7, 8.2,
     8.5, 7.9, 8.8, 8.0, 8.4, 7.7, 8.6, 8.2, 8.9, 7.8, 8.3, 8.7, 7.6, 8.5, 8.1, 8.8, 7.9, 8.4, 8.2, 8.6,
     7.8, 8.4, 8.9, 8.0, 8.6, 7.7, 8.3, 8.8, 8.1, 8.5, 8.0, 8.7, 7.9, 8.4, 8.2, 8.8, 7.7, 8.5, 8.1, 8.6],
    [5.9, 6.2, 5.65, 6.05, 5.8, 6.3, 5.7, 6.1, 5.95, 6.35, 5.6, 6.0, 6.25, 5.75, 6.15, 5.85, 6.4, 5.7, 6.05, 5.9,
     6.2, 5.55, 6.1, 5.8, 6.3, 5.95, 5.7, 6.15, 5.85, 6.25, 5.65, 6.05, 5.9, 6.35, 5.75, 6.1, 5.85, 6.2, 5.6, 6.0,
     6.3, 5.8, 6.1, 5.7, 6.25, 5.9, 6.0, 5.65, 6.2, 5.85, 6.05, 5.75, 6.3, 5.9, 6.1, 5.6, 6.2, 5.95, 6.0, 5.8,
     6.15, 5.7, 6.35, 5.85, 6.05, 5.55, 6.25, 5.9, 6.1, 5.75, 5.95, 6.3, 5.65, 6.1, 5.8, 6.2, 5.7, 6.0, 6.35, 5.85,
     6.05, 5.6, 6.25, 5.9, 6.15, 5.75, 6.3, 5.85, 6.0, 5.7, 6.2, 5.8, 6.1, 5.65, 6.35, 5.9, 6.05, 5.75, 6.25, 5.85,
     5.95, 6.3, 5.6, 6.1, 5.8, 6.2, 5.7, 6.05, 5.9, 6.15, 5.75, 6.25, 5.85, 6.0, 5.65, 6.3, 5.95, 6.1, 5.8,
     6.2],
    [2.6, 3.2, 2.1, 2.9, 3.5, 2.4, 2.7, 3.3, 1.9, 3.0, 2.5, 3.4, 2.2, 2.8, 3.1, 2.0, 3.6, 2.6, 2.3, 3.2,
     2.8, 2.1, 3.4, 2.5, 3.0, 2.2, 3.3, 2.7, 1.8, 3.1, 2.4, 3.5, 2.6, 2.9, 2.0, 3.2, 2.5, 3.4, 2.3, 2.8,
     3.1, 2.2, 3.5, 2.6, 2.0, 3.0, 2.7, 3.3, 2.4, 2.9, 3.2, 2.1, 2.8, 3.4, 2.5, 3.0, 2.3, 3.1, 2.6, 2.9,
     2.3, 3.3, 2.7, 2.0, 3.5, 2.5, 2.9, 2.2, 3.2, 2.6, 3.0, 2.4, 3.4, 2.1, 2.8, 3.3, 2.5, 3.1, 1.9, 2.7,
     3.4, 2.6, 2.2, 3.0, 2.8, 3.5, 2.3, 2.9, 2.5, 3.2, 2.1, 2.9, 3.3, 2.4, 3.1, 2.6, 2.0, 3.4, 2.7, 2.3,
     3.2, 2.5, 3.0, 2.2, 3.5, 2.8, 2.4, 3.1, 2.6, 2.0, 2.9, 3.3, 2.4, 2.7, 3.1, 2.2, 3.4, 2.6, 3.0, 2.5],
    [9.1, 9.4, 8.9, 9.25, 9.55, 9.0, 9.35, 8.8, 9.5, 9.15, 9.3, 8.95, 9.45, 9.1, 9.6, 9.05, 9.25, 8.85, 9.4, 9.2,
     9.55, 9.0, 9.35, 9.15, 8.9, 9.5, 9.1, 9.3, 8.95, 9.45, 9.2, 9.6, 9.05, 9.35, 8.85, 9.25, 9.5, 9.0, 9.4, 9.15,
     8.9, 9.3, 9.55, 9.1, 9.45, 8.95, 9.2, 9.6, 9.05, 9.35, 9.15, 9.5, 8.9, 9.3, 9.05, 11.0, 9.25, 9.45, 9.0, 9.35,
     9.6, 9.1, 9.4, 8.85, 9.2, 9.5, 9.05, 9.3, 9.15, 8.95, 9.45, 9.2, 9.55, 9.0, 9.35, 8.9, 9.4, 9.1, 9.6, 9.25,
     9.05, 9.4, 8.95, 9.3, 9.5, 9.1, 9.25, 8.85, 9.45, 9.15, 9.35, 9.0, 9.55, 9.2, 8.9, 9.4, 9.1, 9.5, 9.05, 9.3,
     9.6, 9.15, 9.35, 8.95, 9.45, 9.05, 9.25, 9.5, 9.0, 9.4, 9.2, 9.55, 9.1, 9.3, 8.9, 9.45, 9.15, 9.35, 9.05,
     9.25],
    [7.0, 7.25, 6.85, 7.15, 6.75, 7.35, 6.95, 7.2, 6.8, 7.1, 7.3, 6.9, 7.05, 6.7, 7.25, 7.0, 7.4, 6.85, 7.15, 6.95,
     7.3, 6.8, 7.2, 6.9, 7.35, 7.05, 6.75, 7.15, 6.95, 7.25, 6.85, 7.3, 7.0, 6.7, 7.2, 6.9, 7.35, 7.1, 6.8, 7.25,
     7.0, 6.75, 7.15, 6.95, 7.3, 6.85, 7.2, 7.05, 6.7, 7.35, 6.9, 7.1, 7.25, 6.8, 7.15, 7.0, 6.85, 7.3, 6.95, 7.1,
     7.2, 6.75, 7.35, 6.9, 7.05, 6.8, 7.25, 7.0, 6.7, 7.15, 6.95, 7.3, 6.85, 7.1, 7.4, 6.9, 7.2, 6.75, 7.05, 7.3,
     6.8, 7.15, 6.95, 7.25, 6.85, 7.35, 7.0, 6.7, 7.2, 6.9, 7.1, 6.85, 7.3, 7.0, 6.75, 7.25, 6.95, 7.15, 6.8, 7.35,
     7.05, 6.9, 7.2, 6.7, 7.3, 6.95, 7.1, 6.85, 7.25, 7.0, 6.8, 7.35, 6.9, 7.15, 7.05, 6.75, 7.3, 6.95, 7.2,
     7.0],
    [9.25, 8.9, 9.45, 9.05, 9.3, 8.85, 9.5, 9.15, 9.0, 9.35, 8.95, 9.4, 9.1, 9.25, 8.8, 9.45, 9.05, 9.3, 9.2, 8.9,
     9.5, 9.0, 9.35, 9.15, 8.85, 9.4, 9.1, 9.25, 8.95, 9.45, 9.2, 9.05, 9.35, 8.9, 9.5, 9.1, 9.3, 8.85, 9.4, 9.0,
     9.25, 9.45, 9.1, 8.95, 9.35, 9.05, 9.5, 9.2, 8.9, 9.3, 9.1, 9.4, 9.0, 9.25, 8.85, 9.45, 9.15, 9.3, 9.05, 9.2,
     8.95, 9.35, 9.15, 9.5, 9.0, 9.3, 8.9, 9.4, 9.1, 9.25, 9.45, 9.05, 9.2, 8.85, 9.35, 9.15, 9.5, 9.0, 9.3, 8.95,
     9.4, 9.1, 9.25, 9.45, 8.9, 9.3, 9.05, 9.5, 9.2, 8.95, 9.35, 9.0, 9.45, 9.15, 9.25, 8.85, 9.4, 9.1, 9.3, 9.05,
     9.2, 9.5, 8.95, 9.35, 9.1, 9.25, 9.0, 9.45, 8.9, 9.3, 9.15, 9.4, 9.05, 9.2, 8.95, 9.35, 9.1, 9.3, 9.0,
     9.25],
]

# ---------------- figure ----------------
W, H = 950, 834
fig = plt.figure(figsize=(W / 100, H / 100), dpi=100)
plt.rcParams["font.family"] = ["DejaVu Sans"]

row_tops = [30, 190, 349, 509, 668]
ax_h = 133
left_x0, left_x1 = 10.7, 433
right_x0, right_x1 = 517, 940

TITLE_FS = 11
TICK_FS = 9
C0 = "#1f77b4"


def add_ax(x0, x1, top):
    return fig.add_axes([x0 / W, 1 - (top + ax_h) / H, (x1 - x0) / W, ax_h / H])


def style(ax, title):
    ax.set_title(title, fontsize=TITLE_FS, pad=5)
    ax.tick_params(labelsize=TICK_FS, length=3.2, width=0.7)
    for s in ax.spines.values():
        s.set_linewidth(0.75)
    ax.set_xlabel("")
    ax.set_ylabel("")


def line(ax, x, y, color, ls, alpha=1.0, lw=1.1):
    sns.lineplot(x=np.asarray(x, float), y=np.asarray(y, float), ax=ax, color=color,
                 linestyle=ls, alpha=alpha, linewidth=lw, estimator=None, sort=False,
                 legend=False)


scalar_kdes = [
    (alpha_kde0_x, alpha_kde0_y, alpha_kde1_x, alpha_kde1_y),
    (beta1_kde0_x, beta1_kde0_y, beta1_kde1_x, beta1_kde1_y),
    (beta2_kde0_x, beta2_kde0_y, beta2_kde1_x, beta2_kde1_y),
    (epsilon_kde0_x, epsilon_kde0_y, epsilon_kde1_x, epsilon_kde1_y),
]
scalar_traces = [
    (alpha_chain0, alpha_chain1),
    (beta1_chain0, beta1_chain1),
    (beta2_chain0, beta2_chain1),
    (epsilon_chain0, epsilon_chain1),
]

for r, name in enumerate(var_names):
    axl = add_ax(left_x0, left_x1, row_tops[r])
    axr = add_ax(right_x0, right_x1, row_tops[r])
    if r < 4:
        k0x, k0y, k1x, k1y = scalar_kdes[r]
        line(axl, k0x, k0y, C0, "-")
        line(axl, k1x, k1y, C0, ":")
        ch0, ch1 = scalar_traces[r]
        d0 = np.linspace(0, n_draws - 1, len(ch0))
        d1 = np.linspace(0, n_draws - 1, len(ch1))
        line(axr, d0, ch0, C0, "-", alpha=0.38, lw=1.25)
        line(axr, d1, ch1, C0, ":", alpha=0.4, lw=1.25)
    else:
        for i in range(len(mu_kde_x)):
            line(axl, mu_kde_x[i], mu_kde_y[i], mu_colors[i], "-")
            line(axl, mu_kde_x[i], mu_kde_y[i], mu_colors[i], ":")
        order = [7, 0, 6, 9, 1, 5, 3, 2, 10, 4, 8]
        for i in order:
            d0 = np.linspace(0, n_draws - 1, len(mu_chain0[i]))
            d1 = np.linspace(0, n_draws - 1, len(mu_chain1[i]))
            line(axr, d0, mu_chain0[i], mu_colors[i], "-", alpha=0.38, lw=1.5)
            line(axr, d1, mu_chain1[i], mu_colors[i], ":", alpha=0.4, lw=1.5)
    axl.set_yticks([])
    axr.set_xlim(0, n_draws - 1)
    axr.set_xticks(trace_xticks)
    if name == "beta1":
        axr.set_yticks(beta1_trace_yticks)
    style(axl, name)
    style(axr, name)

fig.savefig("out.png", dpi=100)
